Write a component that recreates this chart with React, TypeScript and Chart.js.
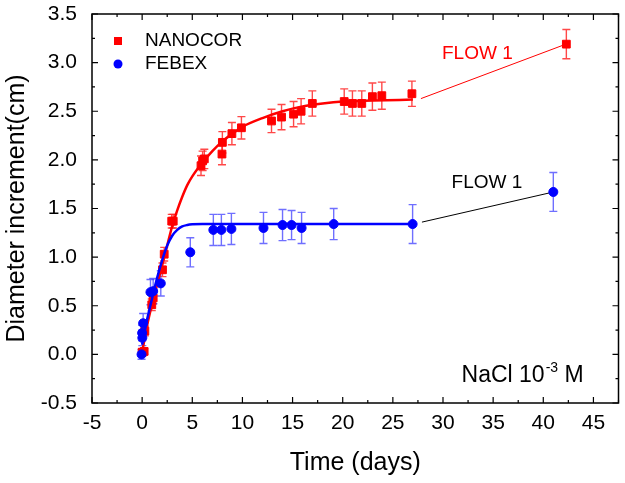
import React, { useEffect, useRef } from "react";
import { Chart, registerables } from "chart.js";

Chart.register(...registerables);

const X_TICKS = [-5, 0, 5, 10, 15, 20, 25, 30, 35, 40, 45];
const Y_TICKS = [-0.5, 0, 0.5, 1, 1.5, 2, 2.5, 3, 3.5];

const NANOCOR_X = [0, 0.2, 0.27, 0.96, 1.1, 2.03, 2.2, 2.95, 3.1, 5.87, 6.03, 6.2, 7.96, 8.0, 8.95, 9.9, 12.9, 13.9, 15.1, 15.85, 16.97, 20.15, 20.97, 21.9, 22.96, 23.9, 26.9, 42.3];
const NANOCOR_Y = [0.02, 0.03, 0.24, 0.51, 0.58, 0.87, 1.03, 1.37, 1.37, 1.94, 1.99, 2.01, 2.06, 2.18, 2.27, 2.33, 2.4, 2.44, 2.47, 2.5, 2.58, 2.6, 2.58, 2.58, 2.65, 2.66, 2.68, 3.19];
const NANOCOR_ERR = [0.04, 0.03, 0.05, 0.06, 0.06, 0.07, 0.07, 0.07, 0.07, 0.1, 0.1, 0.1, 0.11, 0.11, 0.115, 0.115, 0.12, 0.13, 0.13, 0.13, 0.13, 0.13, 0.13, 0.13, 0.14, 0.14, 0.13, 0.15];

const FEBEX_X = [-0.06, 0.0, 0.02, 0.1, 0.83, 1.1, 1.86, 4.8, 7.1, 7.9, 8.9, 12.1, 14.0, 14.9, 15.9, 19.1, 26.97, 41.0];
const FEBEX_Y = [0.0, 0.22, 0.17, 0.32, 0.64, 0.65, 0.73, 1.05, 1.28, 1.28, 1.29, 1.3, 1.33, 1.33, 1.3, 1.34, 1.34, 1.67];
const FEBEX_ERR = [0.05, 0.08, 0.08, 0.1, 0.13, 0.13, 0.13, 0.15, 0.16, 0.16, 0.16, 0.16, 0.16, 0.15, 0.16, 0.16, 0.2, 0.2];

const NANOCOR_FIT_X = [0, 0.5, 1, 1.5, 2, 2.5, 3, 3.5, 4, 4.5, 5, 6, 7, 8, 9, 10, 12, 14, 16, 18, 20, 23, 27];
const NANOCOR_FIT_Y = [0.02, 0.3, 0.52, 0.72, 0.92, 1.12, 1.32, 1.48, 1.62, 1.74, 1.83, 1.97, 2.09, 2.19, 2.27, 2.34, 2.43, 2.5, 2.55, 2.58, 2.6, 2.61, 2.62];

const FEBEX_FIT_X = [0, 0.5, 1, 1.5, 2, 2.5, 3, 3.5, 4, 4.5, 5, 6, 8, 12, 20, 27];
const FEBEX_FIT_Y = [0.1, 0.36, 0.58, 0.79, 0.97, 1.12, 1.22, 1.28, 1.315, 1.33, 1.337, 1.34, 1.34, 1.34, 1.34, 1.34];

const NANOCOR_LINK_X = [27.8, 42.0];
const NANOCOR_LINK_Y = [2.63, 3.18];
const FEBEX_LINK_X = [27.9, 40.6];
const FEBEX_LINK_Y = [1.36, 1.66];

const FONT = '"Liberation Sans", Arial, sans-serif';
const RED = "#ff0000";
const BLUE = "#0000ff";

const toPts = (xs: number[], ys: number[]) => xs.map((x, i) => ({ x, y: ys[i] }));

const errorBarsPlugin = {
  id: "errorBars",
  beforeDatasetsDraw(chart: any) {
    const { ctx, chartArea, scales } = chart;
    const x = scales.x;
    const y = scales.y;
    const draw = (xs: number[], ys: number[], es: number[], color: string) => {
      ctx.save();
      ctx.strokeStyle = color;
      ctx.lineWidth = 1.4;
      for (let i = 0; i < xs.length; i++) {
        const px = x.getPixelForValue(xs[i]);
        const t = y.getPixelForValue(ys[i] + es[i]);
        const b = y.getPixelForValue(ys[i] - es[i]);
        ctx.beginPath();
        ctx.moveTo(px, t);
        ctx.lineTo(px, b);
        ctx.moveTo(px - 4, t);
        ctx.lineTo(px + 4, t);
        ctx.moveTo(px - 4, b);
        ctx.lineTo(px + 4, b);
        ctx.stroke();
      }
      ctx.restore();
    };
    ctx.save();
    ctx.beginPath();
    ctx.rect(chartArea.left, chartArea.top, chartArea.right - chartArea.left, chartArea.bottom - chartArea.top);
    ctx.clip();
    draw(NANOCOR_X, NANOCOR_Y, NANOCOR_ERR, "rgba(255,40,40,0.85)");
    draw(FEBEX_X, FEBEX_Y, FEBEX_ERR, "rgba(50,50,255,0.7)");
    ctx.restore();
  },
};

const frameTicksPlugin = {
  id: "frameTicks",
  afterDraw(chart: any) {
    const { ctx, chartArea, scales } = chart;
    const { left, right, top, bottom } = chartArea;
    const x = scales.x;
    const y = scales.y;
    ctx.save();
    ctx.strokeStyle = "#000";
    ctx.lineWidth = 1.5;
    ctx.strokeRect(left, top, right - left, bottom - top);
    ctx.lineWidth = 1.2;
    const xt: number[] = x.ticks.map((t: any) => t.value);
    const yt: number[] = y.ticks.map((t: any) => t.value);
    const xMinor: number[] = [];
    for (let i = 0; i < xt.length; i++) {
      const step = xt.length > 1 ? xt[1] - xt[0] : 0;
      xMinor.push(xt[i] + step / 2);
    }
    const yMinor: number[] = [];
    for (let i = 0; i < yt.length - 1; i++) yMinor.push((yt[i] + yt[i + 1]) / 2);
    ctx.beginPath();
    const xTick = (v: number, len: number) => {
      const px = x.getPixelForValue(v);
      if (px < left - 0.5 || px > right + 0.5) return;
      ctx.moveTo(px, bottom);
      ctx.lineTo(px, bottom - len);
      ctx.moveTo(px, top);
      ctx.lineTo(px, top + len);
    };
    const yTick = (v: number, len: number) => {
      const py = y.getPixelForValue(v);
      if (py < top - 0.5 || py > bottom + 0.5) return;
      ctx.moveTo(left, py);
      ctx.lineTo(left + len, py);
      ctx.moveTo(right, py);
      ctx.lineTo(right - len, py);
    };
    xt.forEach((v) => xTick(v, 6));
    xMinor.forEach((v) => xTick(v, 3));
    yt.forEach((v) => yTick(v, 6));
    yMinor.forEach((v) => yTick(v, 3));
    ctx.stroke();

    // legend
    ctx.fillStyle = RED;
    ctx.fillRect(left + 22, top + 23, 8, 8);
    ctx.fillStyle = BLUE;
    ctx.beginPath();
    ctx.arc(left + 26, top + 50, 4.5, 0, Math.PI * 2);
    ctx.fill();
    ctx.fillStyle = "#000";
    ctx.font = `19px ${FONT}`;
    ctx.textBaseline = "middle";
    ctx.textAlign = "left";
    ctx.fillText("NANOCOR", left + 53, top + 27);
    ctx.fillText("FEBEX", left + 53, top + 50);

    // annotations
    ctx.textBaseline = "alphabetic";
    ctx.fillStyle = RED;
    ctx.fillText("FLOW 1", x.getPixelForValue(29.9), y.getPixelForValue(3.04));
    ctx.fillStyle = "#000";
    ctx.fillText("FLOW 1", x.getPixelForValue(30.85), y.getPixelForValue(1.71));

    let px = x.getPixelForValue(31.85);
    const py = y.getPixelForValue(-0.28);
    ctx.font = `23px ${FONT}`;
    ctx.fillText("NaCl 10", px, py);
    px += ctx.measureText("NaCl 10").width;
    ctx.font = `14px ${FONT}`;
    ctx.fillText("-3", px + 1, py - 10);
    px += ctx.measureText("-3").width + 1;
    ctx.font = `23px ${FONT}`;
    ctx.fillText(" M", px, py);
    ctx.restore();
  },
};

export default function App() {
  const ref = useRef<HTMLCanvasElement | null>(null);
  useEffect(() => {
    if (!ref.current) return;
    const chart = new Chart(ref.current, {
      type: "scatter",
      data: {
        datasets: [
          {
            label: "FEBEX",
            data: toPts(FEBEX_X, FEBEX_Y),
            backgroundColor: BLUE,
            borderColor: BLUE,
            pointStyle: "circle",
            pointRadius: 4.5,
            showLine: false,
            order: 1,
          },
          {
            label: "FEBEX fit",
            data: toPts(FEBEX_FIT_X, FEBEX_FIT_Y),
            borderColor: BLUE,
            borderWidth: 2.5,
            pointRadius: 0,
            showLine: true,
            cubicInterpolationMode: "monotone",
            order: 2,
          },
          {
            label: "NANOCOR",
            data: toPts(NANOCOR_X, NANOCOR_Y),
            backgroundColor: RED,
            borderColor: RED,
            pointStyle: "rect",
            pointRadius: 5.5,
            showLine: false,
            order: 3,
          },
          {
            label: "NANOCOR fit",
            data: toPts(NANOCOR_FIT_X, NANOCOR_FIT_Y),
            borderColor: RED,
            borderWidth: 2.5,
            pointRadius: 0,
            showLine: true,
            cubicInterpolationMode: "monotone",
            order: 4,
          },
          {
            label: "NANOCOR link",
            data: toPts(NANOCOR_LINK_X, NANOCOR_LINK_Y),
            borderColor: RED,
            borderWidth: 1,
            pointRadius: 0,
            showLine: true,
            order: 5,
          },
          {
            label: "FEBEX link",
            data: toPts(FEBEX_LINK_X, FEBEX_LINK_Y),
            borderColor: "#000",
            borderWidth: 1,
            pointRadius: 0,
            showLine: true,
            order: 5,
          },
        ],
      },
      options: {
        animation: false,
        responsive: false,
        maintainAspectRatio: false,
        layout: { padding: { top: 14, right: 5, left: 0, bottom: 0 } },
        plugins: { legend: { display: false }, tooltip: { enabled: false } },
        scales: {
          x: {
            type: "linear",
            min: -5,
            max: 47.5,
            afterBuildTicks: (s: any) => {
              s.ticks = X_TICKS.map((v) => ({ value: v }));
            },
            afterFit: (s: any) => {
              s.height = 80;
              s.paddingLeft = 0;
              s.paddingRight = 0;
            },
            grid: { display: false, drawTicks: false, tickLength: 0 },
            border: { display: false },
            ticks: {
              color: "#000",
              padding: 8,
              maxRotation: 0,
              autoSkip: false,
              font: { family: FONT, size: 21 },
              callback: (v: any) => String(v),
            },
            title: {
              display: true,
              text: "Time (days)",
              color: "#000",
              font: { family: FONT, size: 25 },
              padding: { top: 0, bottom: 5 },
            },
          },
          y: {
            type: "linear",
            min: -0.5,
            max: 3.5,
            afterBuildTicks: (s: any) => {
              s.ticks = Y_TICKS.map((v) => ({ value: v }));
            },
            afterFit: (s: any) => {
              s.width = 92;
              s.paddingTop = 0;
              s.paddingBottom = 0;
            },
            grid: { display: false, drawTicks: false, tickLength: 0 },
            border: { display: false },
            ticks: {
              color: "#000",
              padding: 15,
              autoSkip: false,
              font: { family: FONT, size: 21 },
              callback: (v: any) => Number(v).toFixed(1),
            },
            title: {
              display: true,
              text: "Diameter increment(cm)",
              color: "#000",
              font: { family: FONT, size: 25 },
              padding: { top: 2, bottom: 0 },
            },
          },
        },
      },
      plugins: [errorBarsPlugin, frameTicksPlugin],
    } as any);
    return () => chart.destroy();
  }, []);
  return (
    <div style={{ position: "absolute", left: 0, top: 0, width: 625, height: 483, background: "#fff" }}>
      <canvas ref={ref} width={625} height={483} style={{ width: 625, height: 483, display: "block" }} />
    </div>
  );
}
